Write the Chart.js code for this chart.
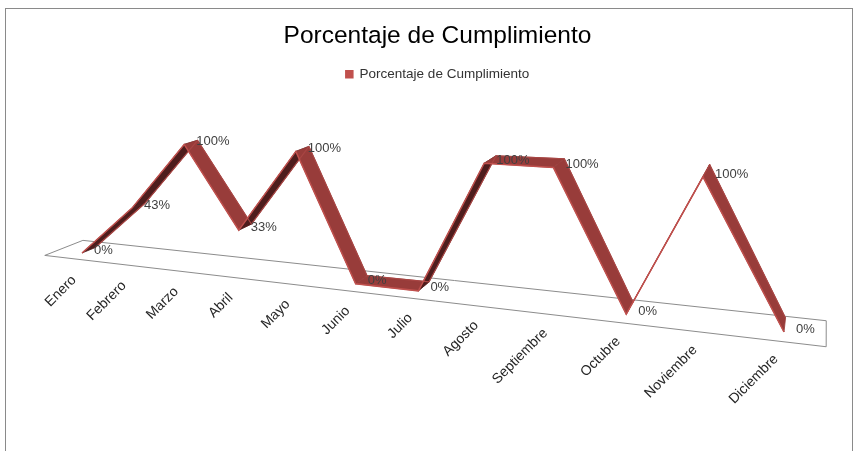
<!DOCTYPE html>
<html lang="es">
<head>
<meta charset="utf-8">
<title>Porcentaje de Cumplimiento</title>
<style>
  html, body { margin: 0; padding: 0; background: #fff; }
  #wrap { width: 859px; height: 451px; }
</style>
</head>
<body>
<div id="wrap"><canvas id="grafico" width="859" height="451"></canvas></div>
<script src="https://cdn.jsdelivr.net/npm/chart.js@4.4.1/dist/chart.umd.min.js"></script>
<script>
// datos
const meses = ["Enero", "Febrero", "Marzo", "Abril", "Mayo", "Junio",
  "Julio", "Agosto", "Septiembre", "Octubre", "Noviembre", "Diciembre"];
const cumplimiento = [0, 43, 100, 33, 100, 0, 0, 100, 100, 0, 100, 0];
const serieNombre = "Porcentaje de Cumplimiento";
const tituloTexto = "Porcentaje de Cumplimiento";

// vista 3D: linea base (0%) de extremo a extremo, altura del 100% en cada extremo
// y punto de fuga de la profundidad
const VISTA = {
  b0: [82, 253], b1: [784, 332],
  h0: 115, h1: 150,
  fuga: [827, -53],
  cinta: 14,
  pisoAtras: [27, 16],
  pisoDelante: [14, 10]
};

const ROJO = "#c0504d";
const CARA_CLARA = "#983c3a";
const CARA_OSCURA = "#4e1d1d";

function proyectar(t, v) {
  const w0 = (1 - t) / VISTA.h0, w1 = t / VISTA.h1, s = w0 + w1;
  const x = (w0 * VISTA.b0[0] + w1 * VISTA.b1[0]) / s;
  const yb = (w0 * VISTA.b0[1] + w1 * VISTA.b1[1]) / s;
  return { x: x, y: yb - v / s };
}

function haciaFuga(p) {
  const dx = VISTA.fuga[0] - p.x, dy = VISTA.fuga[1] - p.y;
  const l = Math.hypot(dx, dy);
  return { x: dx / l, y: dy / l };
}

function tDesde(chart, px) {
  const xs = chart.scales.x;
  return (px - xs.left) / (xs.right - xs.left);
}

const perspectiva = {
  id: "perspectiva",
  beforeDraw(chart) {
    const ctx = chart.ctx;
    ctx.save();
    ctx.fillStyle = "#fff";
    ctx.fillRect(0, 0, chart.width, chart.height);
    ctx.strokeStyle = "#8a8a8a";
    ctx.lineWidth = 1;
    ctx.strokeRect(5.5, 8.5, 847, 500);
    ctx.restore();
  },
  afterDatasetsUpdate(chart) {
    const ys = chart.scales.y;
    const meta = chart.getDatasetMeta(0);
    meta.data.forEach(function (el) {
      const t = tDesde(chart, el.x);
      const v = (ys.bottom - el.y) / (ys.bottom - ys.top);
      const p = proyectar(t, v);
      el.x = p.x;
      el.y = p.y;
    });
    if (meta.dataset) delete meta.dataset._path;
  },
  beforeDatasetsDraw(chart) {
    const ctx = chart.ctx;
    const xs = chart.scales.x;
    // piso
    const tl = tDesde(chart, xs.getPixelForValue(-0.5));
    const tr = tDesde(chart, xs.getPixelForValue(meses.length - 0.5));
    const bl = proyectar(tl, 0), br = proyectar(tr, 0);
    const ul = haciaFuga(bl), ur = haciaFuga(br);
    ctx.save();
    ctx.beginPath();
    ctx.moveTo(bl.x + ul.x * VISTA.pisoAtras[0], bl.y + ul.y * VISTA.pisoAtras[0]);
    ctx.lineTo(br.x + ur.x * VISTA.pisoAtras[1], br.y + ur.y * VISTA.pisoAtras[1]);
    ctx.lineTo(br.x - ur.x * VISTA.pisoDelante[1], br.y - ur.y * VISTA.pisoDelante[1]);
    ctx.lineTo(bl.x - ul.x * VISTA.pisoDelante[0], bl.y - ul.y * VISTA.pisoDelante[0]);
    ctx.closePath();
    ctx.fillStyle = "#fff";
    ctx.fill();
    ctx.strokeStyle = "#8c8c8c";
    ctx.lineWidth = 1;
    ctx.stroke();

    // cinta de la serie
    const pts = chart.getDatasetMeta(0).data;
    for (let i = 0; i < pts.length - 1; i++) {
      const a = pts[i], b = pts[i + 1];
      const ua = haciaFuga(a), ub = haciaFuga(b);
      const sx = b.x - a.x, sy = b.y - a.y;
      const um = { x: (ua.x + ub.x) / 2, y: (ua.y + ub.y) / 2 };
      const cruz = sx * um.y - sy * um.x;
      ctx.beginPath();
      ctx.moveTo(a.x, a.y);
      ctx.lineTo(b.x, b.y);
      ctx.lineTo(b.x + ub.x * VISTA.cinta, b.y + ub.y * VISTA.cinta);
      ctx.lineTo(a.x + ua.x * VISTA.cinta, a.y + ua.y * VISTA.cinta);
      ctx.closePath();
      ctx.fillStyle = cruz > 0 ? CARA_OSCURA : CARA_CLARA;
      ctx.fill();
      ctx.strokeStyle = cruz > 0 ? CARA_OSCURA : CARA_CLARA;
      ctx.lineWidth = 0.8;
      ctx.stroke();
    }
    // borde trasero
    ctx.beginPath();
    pts.forEach(function (p, i) {
      const u = haciaFuga(p);
      const x = p.x + u.x * VISTA.cinta, y = p.y + u.y * VISTA.cinta;
      if (i === 0) ctx.moveTo(x, y); else ctx.lineTo(x, y);
    });
    ctx.strokeStyle = "#a84543";
    ctx.lineWidth = 1.2;
    ctx.lineJoin = "round";
    ctx.stroke();
    ctx.restore();
  },
  afterDatasetsDraw(chart) {
    const ctx = chart.ctx;
    const xs = chart.scales.x;
    const pts = chart.getDatasetMeta(0).data;
    ctx.save();
    // etiquetas de datos
    ctx.font = "13px 'Liberation Sans', Arial, sans-serif";
    ctx.fillStyle = "#404040";
    ctx.textAlign = "left";
    ctx.textBaseline = "middle";
    pts.forEach(function (p, i) {
      ctx.fillText(cumplimiento[i] + "%", p.x + 12, p.y - 3);
    });
    // etiquetas de categoria a lo largo de la base
    ctx.font = "14px 'Liberation Sans', Arial, sans-serif";
    ctx.fillStyle = "#262626";
    ctx.textAlign = "right";
    ctx.textBaseline = "middle";
    meses.forEach(function (m, i) {
      const b = proyectar(tDesde(chart, xs.getPixelForTick(i)), 0);
      ctx.save();
      ctx.translate(b.x - 8, b.y + 25);
      ctx.rotate(-Math.PI / 4);
      ctx.fillText(m, 0, 0);
      ctx.restore();
    });
    ctx.restore();
  }
};

Chart.defaults.font.family = "'Liberation Sans', Arial, sans-serif";

new Chart(document.getElementById("grafico"), {
  type: "line",
  data: {
    labels: meses,
    datasets: [{
      label: serieNombre,
      data: cumplimiento,
      borderColor: ROJO,
      backgroundColor: ROJO,
      borderWidth: 1.5,
      tension: 0,
      pointRadius: 0,
      pointHoverRadius: 0,
      clip: false
    }]
  },
  options: {
    responsive: false,
    animation: false,
    layout: { padding: { top: 12, left: 16, right: 0, bottom: 0 } },
    scales: {
      x: { display: false, offset: false },
      y: { display: false, min: 0, max: 100 }
    },
    plugins: {
      title: {
        display: true,
        text: tituloTexto,
        color: "#000",
        font: { size: 24.5, weight: "normal" },
        padding: { top: 10, bottom: 6 }
      },
      legend: {
        display: true,
        position: "top",
        labels: {
          boxWidth: 7,
          boxHeight: 7,
          color: "#333",
          font: { size: 13.5 }
        }
      },
      tooltip: { enabled: false }
    }
  },
  plugins: [perspectiva]
});
</script>
</body>
</html>
